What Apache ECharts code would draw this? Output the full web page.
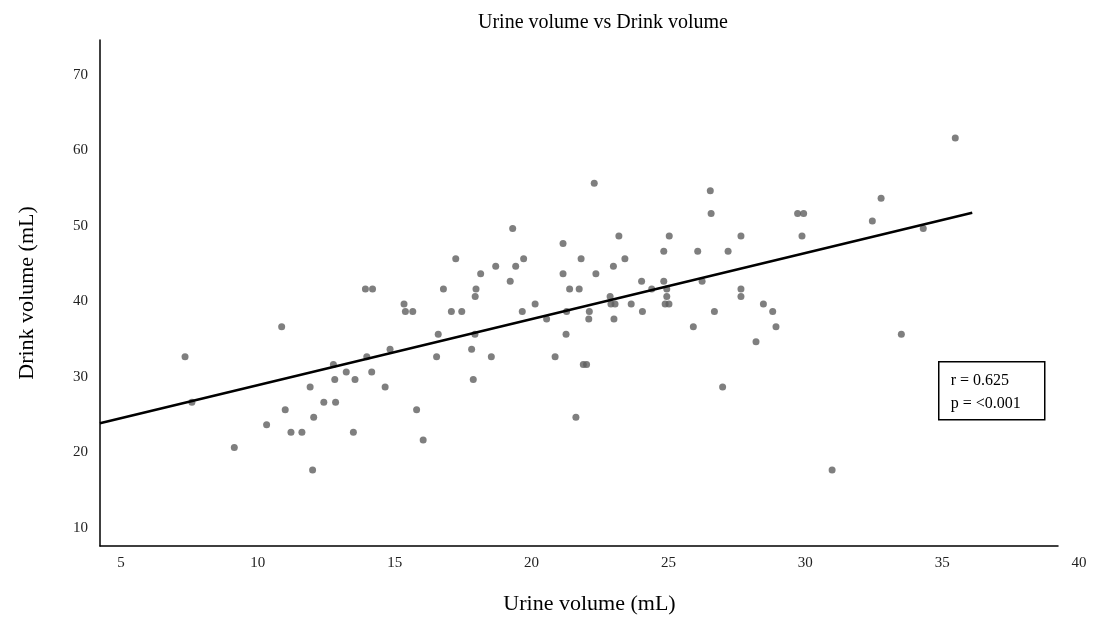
<!DOCTYPE html>
<html><head><meta charset="utf-8">
<script src="https://cdn.jsdelivr.net/npm/echarts@6/dist/echarts.min.js"></script>
<style>html,body{margin:0;padding:0;background:#fff}#c{width:1101px;height:633px}</style>
</head><body><div id="c"></div>
<script>
const chartTitle = 'Urine volume vs Drink volume';
const xAxisName = 'Urine volume (mL)';
const yAxisName = 'Drink volume (mL)';
const xTickLabels = [5, 10, 15, 20, 25, 30, 35, 40];
const yTickLabels = [10, 20, 30, 40, 50, 60, 70];
const statsLabels = ['r = 0.625', 'p = <0.001'];

const urineVolume = [
  7.34,7.59,9.14,10.32,10.87,11.0,11.21,11.61,11.91,12.04,
  12.0,12.41,12.84,12.76,12.81,13.23,13.55,13.49,13.98,14.16,
  13.93,14.19,14.65,14.83,15.34,15.39,15.66,15.80,16.04,16.59,
  16.53,16.78,17.07,17.45,17.23,17.81,17.93,17.87,17.97,17.94,
  18.14,18.53,18.69,19.22,19.31,19.42,19.71,19.66,20.13,20.55,
  20.86,21.15,21.15,21.26,21.28,21.39,21.74,21.62,21.81,21.89,
  22.01,22.11,22.09,22.29,22.35,22.87,22.90,23.05,22.99,23.01,
  23.19,23.41,23.64,24.02,24.05,24.39,24.83,24.83,25.03,24.94,
  24.94,24.88,25.02,25.91,26.07,26.23,26.53,26.56,26.68,26.98,
  27.18,27.65,27.65,27.65,28.2,28.47,28.81,28.93,29.72,29.94,
  29.88,30.98,32.45,32.77,33.51,34.31,35.48
];
const drinkVolume = [
  32,26,20,23,36,25,22,22,28,24,
  17,26,26,31,29,30,29,22,32,30,
  41,41,28,33,39,38,38,25,21,35,
  32,41,38,38,45,33,35,29,41,40,
  43,32,44,42,49,44,45,38,39,37,
  32,47,43,35,38,41,41,24,45,31,
  31,38,37,55,43,40,39,39,44,37,
  48,45,39,42,38,41,42,46,48,41,
  40,39,39,36,46,42,54,51,38,28,
  46,48,41,40,34,39,38,36,51,51,
  48,17,50,53,35,49,61
];
const fitX = [4.23, 36.1];
const fitY = [23.2, 51.1];

const xMin = 4.233, xLineMax = 39.233, xLabelMax = 40;
const yMin = 6.95, yMax = 73.97;

const FONT = "'Liberation Serif','Times New Roman',serif";
const points = urineVolume.map((x, i) => [x, drinkVolume[i]]);
const fitLine = fitX.map((x, i) => [x, fitY[i]]);
const near = (v, list) => list.some(t => Math.abs(v - t) < 1e-6);

const chart = echarts.init(document.getElementById('c'), null, {renderer: 'canvas'});
chart.setOption({
  backgroundColor: '#ffffff',
  animation: false,
  title: {
    text: chartTitle, left: 598, top: 8, textAlign: 'center',
    textStyle: {fontFamily: FONT, fontSize: 20, fontWeight: 'normal', color: '#000'}
  },
  grid: [
    {left: 100, top: 40, width: 958, height: 506},
    {left: 100, top: 40, width: 979, height: 506}
  ],
  xAxis: [
    {type: 'value', gridIndex: 0, min: xMin, max: xLineMax,
     axisLine: {show: true, onZero: false, lineStyle: {color: '#000', width: 1.5}},
     axisTick: {show: false}, axisLabel: {show: false}, splitLine: {show: false}},
    {type: 'value', gridIndex: 1, min: xMin, max: xLabelMax, minInterval: 5, maxInterval: 5,
     axisLine: {show: false}, axisTick: {show: false}, splitLine: {show: false},
     axisLabel: {margin: 10, fontFamily: FONT, fontSize: 15, color: '#222',
       formatter: v => near(v, xTickLabels) ? String(Math.round(v)) : ''},
     name: xAxisName, nameLocation: 'middle', nameGap: 47,
     nameTextStyle: {fontFamily: FONT, fontSize: 22, color: '#000'}}
  ],
  yAxis: [
    {type: 'value', gridIndex: 0, min: yMin, max: yMax, minInterval: 10, maxInterval: 10,
     axisLine: {show: true, onZero: false, lineStyle: {color: '#000', width: 1.5}},
     axisTick: {show: false}, splitLine: {show: false},
     axisLabel: {margin: 12, fontFamily: FONT, fontSize: 15, color: '#222',
       verticalAlign: 'top', lineHeight: 10,
       formatter: v => near(v, yTickLabels) ? String(Math.round(v)) : ''},
     name: yAxisName, nameLocation: 'middle', nameGap: 62,
     nameTextStyle: {fontFamily: FONT, fontSize: 22, color: '#000'}},
    {type: 'value', gridIndex: 1, min: yMin, max: yMax, show: false}
  ],
  series: [
    {type: 'scatter', xAxisIndex: 0, yAxisIndex: 0, data: points, symbolSize: 7,
     itemStyle: {color: '#5f5f5f'}},
    {type: 'line', xAxisIndex: 0, yAxisIndex: 0, data: fitLine, symbol: 'none',
     lineStyle: {color: '#000', width: 2.5}},
    {type: 'scatter', xAxisIndex: 1, yAxisIndex: 1, data: []}
  ],
  graphic: [{
    type: 'group', left: 938, top: 361,
    children: [
      {type: 'rect', shape: {x: 0, y: 0, width: 106, height: 58},
       style: {fill: '#fff', stroke: '#000', lineWidth: 1.5}},
      {type: 'text', x: 12, y: 8,
       style: {text: statsLabels.join('\n'), font: "16px 'Liberation Serif', serif", lineHeight: 23, fill: '#000'}}
    ]
  }]
});
</script>
</body></html>
